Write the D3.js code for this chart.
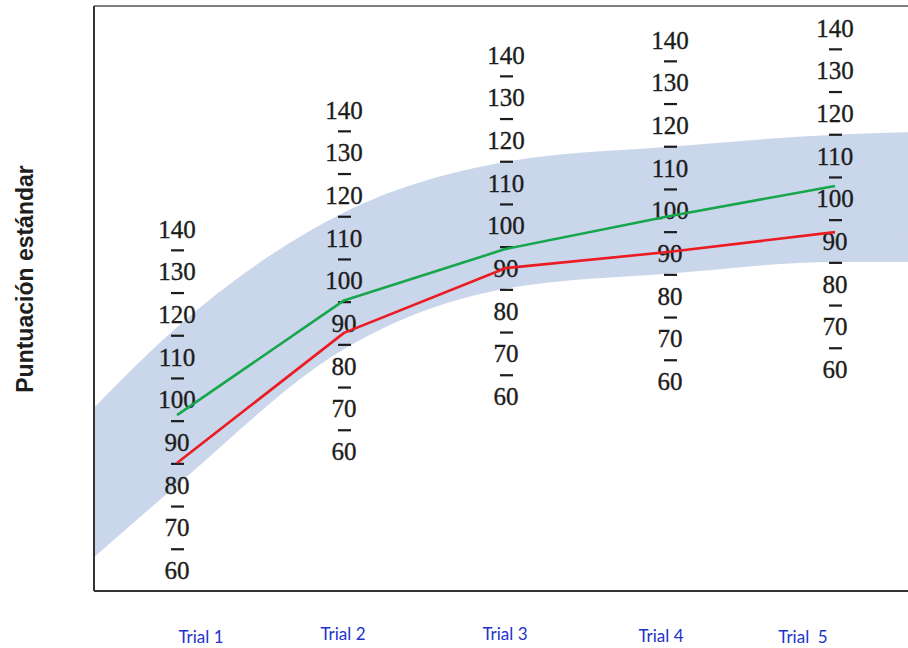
<!DOCTYPE html>
<html>
<head>
<meta charset="utf-8">
<script src="https://cdn.jsdelivr.net/npm/d3@7"></script>
<style>
  html, body { margin: 0; padding: 0; background: #ffffff; }
  svg { display: block; }
</style>
</head>
<body>
<svg id="chart" width="908" height="648"></svg>
<script>
// ---------------- DATA ----------------
const trials = ["Trial 1", "Trial 2", "Trial 3", "Trial 4", "Trial  5"];
const greenValues = [96.4, 95.4, 94.6, 98.8, 103.0];
const redValues   = [85.2, 87.8, 90.1, 90.4, 92.2];
const bandUpper   = [117, 116, 115, 115, 115];
const bandLower   = [80, 84, 85.3, 85.3, 85.2];
// band values where it meets the left / right frame (read on nearest column scale)
const bandEdgeUpper = [98, 115.6];
const bandEdgeLower = [63, 85.2];
const scaleLabels = [140, 130, 120, 110, 100, 90, 80, 70, 60];
const scaleDashes = [135, 125, 115, 105, 95, 85, 75, 65];
const yTitle = "Puntuación estándar";

// ---------------- LAYOUT ----------------
const frame = { left: 94, top: 6, right: 908, bottom: 591 };
const columnX = [177, 344, 506, 670, 835];     // pixel centre of each column scale
const columnTop = [229, 110, 55, 40, 28];      // pixel of value 140 on each column
const unitPx = 4.27;                            // pixels per score unit
const edgeIndex = [-0.5, 4.45];                 // frame edges in trial-index units
const labelNudgeX = [24, -1, -1, -9, -32];
const labelBaseline = [643, 640, 640, 642, 643];

const svg = d3.select("#chart");

const xIdx = d3.scaleLinear().domain([0, 1, 2, 3, 4]).range(columnX);
const yCol = columnTop.map(t => d3.scaleLinear().domain([60, 140]).range([t + 80 * unitPx, t]));

const defs = svg.append("defs");
defs.append("clipPath").attr("id", "frameClip")
  .append("rect")
  .attr("x", frame.left).attr("y", frame.top)
  .attr("width", frame.right - frame.left).attr("height", frame.bottom - frame.top);

const filt = defs.append("filter").attr("id", "grain")
  .attr("x", 0).attr("y", 0).attr("width", 1).attr("height", 1);
filt.append("feTurbulence").attr("type", "fractalNoise").attr("baseFrequency", 0.9)
  .attr("numOctaves", 2).attr("seed", 3).attr("result", "noise");
filt.append("feColorMatrix").attr("in", "noise").attr("type", "matrix")
  .attr("values", "0 0 0 0 0.6  0 0 0 0 0.65  0 0 0 0 0.75  0 0 0 0.3 0").attr("result", "tint");
filt.append("feComposite").attr("in", "tint").attr("in2", "SourceGraphic").attr("operator", "in").attr("result", "tintIn");
filt.append("feMerge").selectAll("feMergeNode").data(["SourceGraphic", "tintIn"]).join("feMergeNode").attr("in", d => d);

// ---------------- BAND ----------------
const bandPts = [];
bandPts.push({ x: xIdx(edgeIndex[0]), y0: yCol[0](bandEdgeLower[0]), y1: yCol[0](bandEdgeUpper[0]) });
trials.forEach((t, i) => bandPts.push({ x: xIdx(i), y0: yCol[i](bandLower[i]), y1: yCol[i](bandUpper[i]) }));
bandPts.push({ x: xIdx(edgeIndex[1]), y0: yCol[4](bandEdgeLower[1]), y1: yCol[4](bandEdgeUpper[1]) });

const area = d3.area().x(d => d.x).y0(d => d.y0).y1(d => d.y1).curve(d3.curveMonotoneX);
svg.append("g").attr("clip-path", "url(#frameClip)")
  .append("path").datum(bandPts)
  .attr("d", area)
  .attr("fill", "#cad7ec")
  .attr("filter", "url(#grain)");

// ---------------- COLUMN SCALES ----------------
trials.forEach((t, i) => {
  const g = svg.append("g").attr("class", "colscale");
  g.selectAll("text").data(scaleLabels).join("text")
    .attr("x", columnX[i])
    .attr("y", d => yCol[i](d))
    .attr("dy", "0.34em")
    .attr("text-anchor", "middle")
    .style("font-family", "'Liberation Serif', 'Times New Roman', serif")
    .style("font-size", "25px")
    .attr("fill", "#1c1c1c")
    .attr("stroke", "#1c1c1c")
    .attr("stroke-width", 0.35)
    .text(d => d);
  g.selectAll("line").data(scaleDashes).join("line")
    .attr("x1", columnX[i] - 6).attr("x2", columnX[i] + 7)
    .attr("y1", d => yCol[i](d)).attr("y2", d => yCol[i](d))
    .attr("stroke", "#1c1c1c").attr("stroke-width", 2.2);
});

// ---------------- LINES ----------------
const line = d3.line().x(d => d.x).y(d => d.y);
const greenPts = greenValues.map((v, i) => ({ x: xIdx(i), y: yCol[i](v) }));
const redPts = redValues.map((v, i) => ({ x: xIdx(i), y: yCol[i](v) }));
svg.append("path").datum(greenPts).attr("d", line)
  .attr("fill", "none").attr("stroke", "#16a64c").attr("stroke-width", 2.6).attr("stroke-linejoin", "round");
svg.append("path").datum(redPts).attr("d", line)
  .attr("fill", "none").attr("stroke", "#ec1b22").attr("stroke-width", 2.6).attr("stroke-linejoin", "round");

// ---------------- FRAME ----------------
svg.append("line").attr("x1", frame.left).attr("x2", frame.right).attr("y1", frame.top).attr("y2", frame.top)
  .attr("stroke", "#555").attr("stroke-width", 1.6);
svg.append("line").attr("x1", frame.left).attr("x2", frame.left).attr("y1", frame.top).attr("y2", frame.bottom)
  .attr("stroke", "#333").attr("stroke-width", 2);
svg.append("line").attr("x1", frame.left).attr("x2", frame.right).attr("y1", frame.bottom).attr("y2", frame.bottom)
  .attr("stroke", "#333").attr("stroke-width", 2.2);

// ---------------- X LABELS ----------------
svg.append("g").selectAll("text").data(trials).join("text")
  .attr("x", (d, i) => xIdx(i) + labelNudgeX[i])
  .attr("y", (d, i) => labelBaseline[i])
  .attr("text-anchor", "middle")
  .style("font-family", "Lato, 'Open Sans', sans-serif")
  .style("font-size", "17px")
  .attr("fill", "#2233cc")
  .style("white-space", "pre")
  .text(d => d);

// ---------------- Y TITLE ----------------
svg.append("text")
  .attr("transform", "translate(33,279) rotate(-90)")
  .attr("text-anchor", "middle")
  .style("font-family", "'Liberation Sans', Arial, sans-serif")
  .style("font-weight", "bold")
  .style("font-size", "23px")
  .attr("fill", "#1e1e1e")
  .text(yTitle);
</script>
</body>
</html>
